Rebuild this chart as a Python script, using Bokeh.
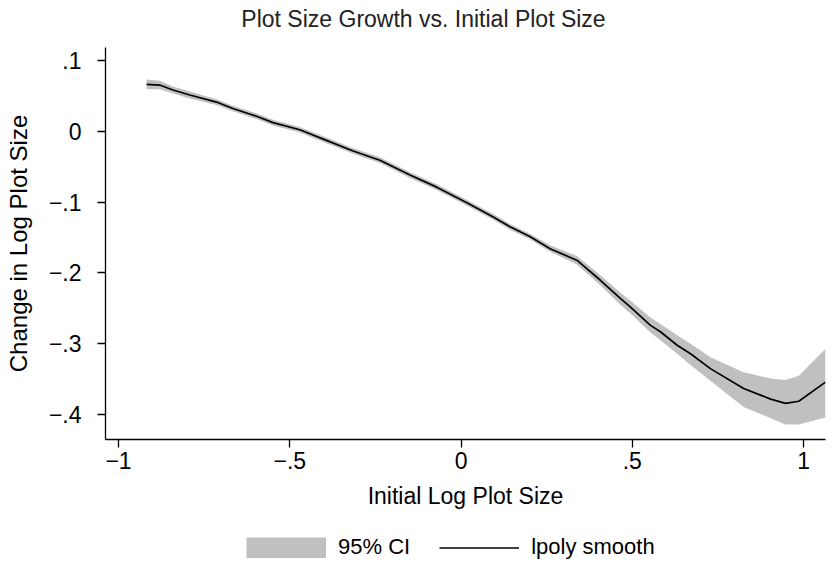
from bokeh.plotting import figure
from bokeh.models import FixedTicker, Legend, LegendItem
from bokeh.core.properties import value
from bokeh.layouts import column
from bokeh.embed import file_html
from bokeh.resources import INLINE

# data (lpoly smooth with 95% CI)
x_vals = [-0.918, -0.880, -0.841, -0.792, -0.714, -0.666, -0.597, -0.549, -0.471, -0.393,
          -0.315, -0.237, -0.149, -0.071, 0.017, 0.094, 0.143, 0.202, 0.260, 0.338,
          0.406, 0.465, 0.494, 0.553, 0.582, 0.631, 0.670, 0.728, 0.825, 0.904,
          0.947, 0.986, 1.064]
smooth = [0.066, 0.065, 0.058, 0.051, 0.041, 0.032, 0.021, 0.012, 0.002, -0.013,
          -0.028, -0.041, -0.062, -0.079, -0.101, -0.121, -0.135, -0.149, -0.166, -0.182,
          -0.210, -0.236, -0.248, -0.274, -0.283, -0.302, -0.314, -0.335, -0.363, -0.378,
          -0.384, -0.381, -0.354]
ci_low = [0.059, 0.059, 0.053, 0.046, 0.037, 0.028, 0.017, 0.008, -0.002, -0.017,
          -0.032, -0.045, -0.066, -0.083, -0.105, -0.125, -0.139, -0.153, -0.170, -0.188,
          -0.217, -0.245, -0.257, -0.284, -0.295, -0.314, -0.330, -0.352, -0.389, -0.405,
          -0.414, -0.414, -0.404]
ci_high = [0.073, 0.071, 0.063, 0.056, 0.045, 0.036, 0.025, 0.016, 0.006, -0.009,
           -0.024, -0.037, -0.058, -0.075, -0.097, -0.117, -0.131, -0.145, -0.161, -0.176,
           -0.203, -0.228, -0.239, -0.263, -0.272, -0.288, -0.300, -0.319, -0.340, -0.349,
           -0.351, -0.345, -0.307]

x_ticks = [-1, -0.5, 0, 0.5, 1]
x_tick_labels = ["\u22121", "\u2212.5", "0", ".5", "1"]
y_ticks = [0.1, 0, -0.1, -0.2, -0.3, -0.4]
y_tick_labels = [".1", "0", "\u2212.1", "\u2212.2", "\u2212.3", "\u2212.4"]
legend_labels = ["95% CI", "lpoly smooth"]
title_text = "Plot Size Growth vs. Initial Plot Size"

FONT = "Liberation Sans"
BAND = "#c0c0c0"

# ---- title row (page-pixel coordinates) ----
tf = figure(width=834, height=40, output_backend="svg", toolbar_location=None,
            x_range=(105, 825), y_range=(0, 40), x_axis_type=None, y_axis_type=None,
            min_border_left=105, min_border_right=9, min_border_top=0, min_border_bottom=0)
tf.grid.visible = False
tf.outline_line_color = None
tf.text(x=[423], y=[22], text=[title_text], text_align="center", text_baseline="middle",
        text_font=value(FONT), text_font_size=value("23px"), text_color="#222222")

# ---- main plot ----
p = figure(frame_width=720, frame_height=392, output_backend="svg", toolbar_location=None,
           x_range=(-1.038, 1.064), y_range=(-0.435, 0.118),
           min_border_left=105, min_border_right=9, min_border_top=7, min_border_bottom=78)

band = p.varea(x=x_vals, y1=ci_low, y2=ci_high, fill_color=BAND, fill_alpha=1.0)
line = p.line(x=x_vals, y=smooth, line_color="black", line_width=1.7)

p.grid.visible = False
p.outline_line_color = None

p.xaxis.ticker = FixedTicker(ticks=x_ticks)
p.xaxis.major_label_overrides = dict(zip(x_ticks, x_tick_labels))
p.yaxis.ticker = FixedTicker(ticks=y_ticks)
p.yaxis.major_label_overrides = dict(zip(y_ticks, y_tick_labels))
p.yaxis.major_label_orientation = "horizontal"

for ax in (p.xaxis[0], p.yaxis[0]):
    ax.axis_line_width = 1.3
    ax.major_tick_line_width = 1.3
    ax.major_tick_out = 8
    ax.major_tick_in = 0
    ax.minor_tick_line_color = None
    ax.major_label_text_font = FONT
    ax.major_label_text_font_size = "23px"
    ax.major_label_text_color = "black"
    ax.axis_label_text_font = FONT
    ax.axis_label_text_font_style = "normal"
    ax.axis_label_text_color = "black"

p.xaxis.axis_label_text_font_size = "23px"
p.yaxis.axis_label_text_font_size = "24px"
p.xaxis.axis_label = "Initial Log Plot Size"
p.yaxis.axis_label = "Change in Log Plot Size"
p.xaxis.major_label_standoff = 4
p.yaxis.major_label_standoff = 16
p.xaxis.axis_label_standoff = 11
p.yaxis.axis_label_standoff = 14

# ---- legend row ----
leg = figure(width=834, height=43, output_backend="svg", toolbar_location=None,
             x_range=(0, 1), y_range=(0, 1), x_axis_type=None, y_axis_type=None,
             min_border_left=105, min_border_right=9, min_border_top=0, min_border_bottom=0)
leg.grid.visible = False
leg.outline_line_color = None
# hidden proxies (outside the visible range) that only supply legend swatches
lb = leg.line(x=[5, 6], y=[5, 5], line_color=BAND, line_width=21, line_cap="butt")
ll = leg.line(x=[5, 6], y=[5, 5], line_color="black", line_width=1.7)
legend = Legend(items=[LegendItem(label=legend_labels[0], renderers=[lb]),
                       LegendItem(label=legend_labels[1], renderers=[ll])],
                orientation="horizontal", location=(141, 0),
                glyph_width=80, glyph_height=21, label_standoff=12, spacing=29,
                label_text_font=FONT, label_text_font_size="22px", label_text_color="black",
                border_line_color=None, background_fill_alpha=0,
                margin=0, padding=0)
leg.add_layout(legend, "center")

layout = column(tf, p, leg, spacing=0)
open("out.html", "w").write(file_html(layout, INLINE))
